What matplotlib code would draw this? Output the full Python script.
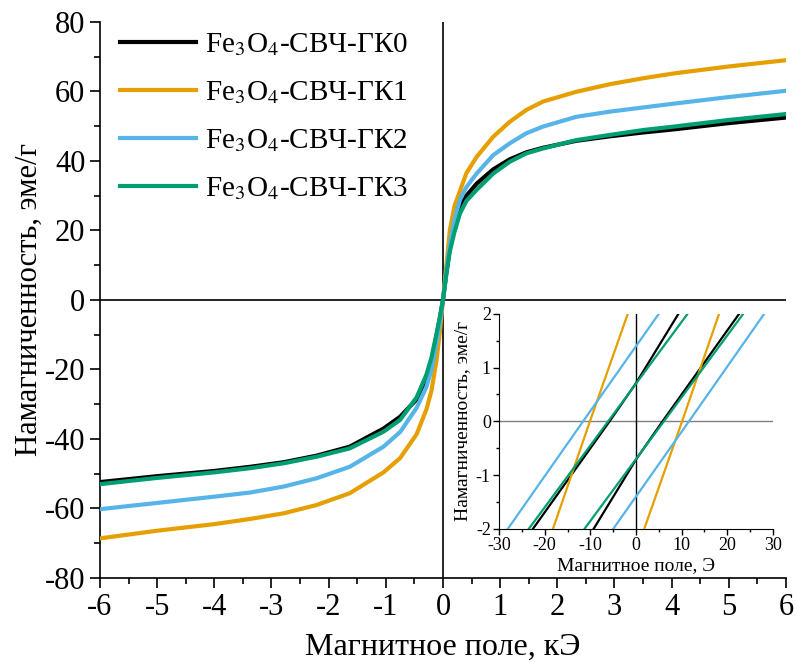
import matplotlib
matplotlib.use('Agg')
import matplotlib.pyplot as plt
from matplotlib.ticker import MultipleLocator

plt.rcParams['font.family'] = ['Liberation Serif', 'DejaVu Serif']
plt.rcParams['mathtext.fontset'] = 'stix'
plt.rcParams['axes.unicode_minus'] = False

# main loop, field in kOe, magnetization in emu/g
H = [-6, -5, -4, -3.37, -2.79, -2.21, -1.63, -1.04, -0.75, -0.46, -0.29, -0.2, -0.11, -0.05, 0,
     0.06, 0.12, 0.2, 0.3, 0.41, 0.59, 0.88, 1.17, 1.46, 1.75, 2.33, 2.92, 3.5, 4.04, 5, 6]
M_gk0 = [-52.4, -50.7, -49.2, -48.0, -46.7, -44.8, -42.2, -37.0, -33.6, -28.6, -22.5, -17.5, -10.0, -5.0, 0,
         8.0, 15.0, 21.0, 26.5, 30.0, 33.5, 37.6, 40.5, 42.5, 43.8, 45.8, 47.1, 48.2, 49.1, 50.9, 52.5]
M_gk1 = [-68.6, -66.4, -64.5, -63.0, -61.4, -59.0, -55.6, -49.6, -45.5, -38.6, -31.5, -26.0, -17.0, -8.5, 0,
         10.0, 20.0, 27.0, 31.5, 36.5, 41.2, 47.0, 51.3, 54.7, 57.1, 59.9, 62.1, 63.8, 65.2, 67.2, 69.0]
M_gk2 = [-60.2, -58.4, -56.6, -55.4, -53.7, -51.3, -48.0, -42.2, -38.0, -31.0, -25.0, -20.0, -12.0, -6.0, 0,
         8.5, 16.0, 23.0, 29.0, 32.5, 36.4, 41.7, 45.1, 48.0, 49.9, 52.7, 54.2, 55.4, 56.5, 58.4, 60.2]
M_gk3 = [-53.0, -51.2, -49.6, -48.4, -47.0, -45.1, -42.7, -37.9, -34.5, -28.0, -21.5, -16.5, -9.5, -4.5, 0,
         7.5, 14.0, 19.5, 25.0, 28.5, 31.7, 36.4, 39.8, 42.2, 43.6, 46.0, 47.5, 48.9, 49.9, 51.8, 53.5]

# inset, field in Oe: descending (up) and ascending (dn) branches
h0_up = [-22.6, -5.8, 0, 9.3];   m0_up = [-2, 0, 0.71, 2]
h0_dn = [-9.3, 0, 5.8, 22.6];    m0_dn = [-2, -0.71, 0, 2]
h1_up = [-18.2, -10.1, -1.8];    m1_up = [-2, 0, 2]
h1_dn = [1.8, 10.1, 18.2];       m1_dn = [-2, 0, 2]
h2_up = [-28.1, -11.6, 5.0];     m2_up = [-2, 0, 2]
h2_dn = [-5.0, 11.6, 28.1];      m2_dn = [-2, 0, 2]
h3_up = [-23.5, -6.1, 11.3];     m3_up = [-2, 0, 2]
h3_dn = [-11.3, 6.1, 23.5];      m3_dn = [-2, 0, 2]

names = ['Fe$_3$O$_4$-СВЧ-ГК0', 'Fe$_3$O$_4$-СВЧ-ГК1',
         'Fe$_3$O$_4$-СВЧ-ГК2', 'Fe$_3$O$_4$-СВЧ-ГК3']
colors = ['black', '#E69F00', '#56B4E9', '#009E73']

fig = plt.figure(figsize=(7.96, 6.62), dpi=100)
ax = fig.add_axes([0.1256, 0.1269, 0.8618, 0.8399])

ax.axhline(0, color='black', lw=1.2, zorder=1)
ax.axvline(0, color='black', lw=1.2, zorder=1)
for m, c, n in zip([M_gk0, M_gk1, M_gk2, M_gk3], colors, names):
    ax.plot(H, m, color=c, lw=3, label=n, zorder=3, solid_joinstyle='round')

ax.set_xlim(-6, 6)
ax.set_ylim(-80, 80)
ax.xaxis.set_major_locator(MultipleLocator(1))
ax.xaxis.set_minor_locator(MultipleLocator(0.5))
ax.yaxis.set_major_locator(MultipleLocator(20))
ax.yaxis.set_minor_locator(MultipleLocator(10))
ax.spines['top'].set_visible(False)
ax.spines['right'].set_visible(False)
ax.spines['left'].set_linewidth(1.2)
ax.spines['bottom'].set_linewidth(1.2)
ax.tick_params(which='major', direction='out', length=7, width=1.2, labelsize=22)
ax.tick_params(which='minor', direction='out', length=4, width=1.2)
ax.set_xlabel('Магнитное поле, кЭ', fontsize=23, labelpad=8)
ax.set_ylabel('Намагниченность, эме/г', fontsize=22, labelpad=1)

leg = ax.legend(loc='upper left', bbox_to_anchor=(0.0, 1.02), frameon=False,
                fontsize=21, handlelength=2.6, handletextpad=0.3, labelspacing=0.72,
                borderaxespad=0.3)

# inset
ins = fig.add_axes([0.627, 0.201, 0.344, 0.325])
ins.axhline(0, color='gray', lw=1.0, zorder=1)
ins.axvline(0, color='black', lw=1.0, zorder=1)
branches = [(h0_up, m0_up, h0_dn, m0_dn), (h1_up, m1_up, h1_dn, m1_dn),
            (h2_up, m2_up, h2_dn, m2_dn), (h3_up, m3_up, h3_dn, m3_dn)]
for (hu, mu, hd, md), c in zip(branches, colors):
    ins.plot(hu, mu, color=c, lw=1.6, zorder=3)
    ins.plot(hd, md, color=c, lw=1.6, zorder=3)
ins.set_xlim(-30, 30)
ins.set_ylim(-2, 2)
ins.xaxis.set_major_locator(MultipleLocator(10))
ins.xaxis.set_minor_locator(MultipleLocator(5))
ins.yaxis.set_major_locator(MultipleLocator(1))
ins.yaxis.set_minor_locator(MultipleLocator(0.5))
ins.spines['top'].set_visible(False)
ins.spines['right'].set_visible(False)
ins.tick_params(which='major', direction='out', length=4, width=1, labelsize=13, pad=2)
ins.tick_params(which='minor', direction='out', length=2.5, width=1)
ins.set_xlabel('Магнитное поле, Э', fontsize=14, labelpad=2)
ins.set_ylabel('Намагниченность, эме/г', fontsize=14, labelpad=3)
ins.patch.set_alpha(0)

fig.savefig('out.png', dpi=100)
